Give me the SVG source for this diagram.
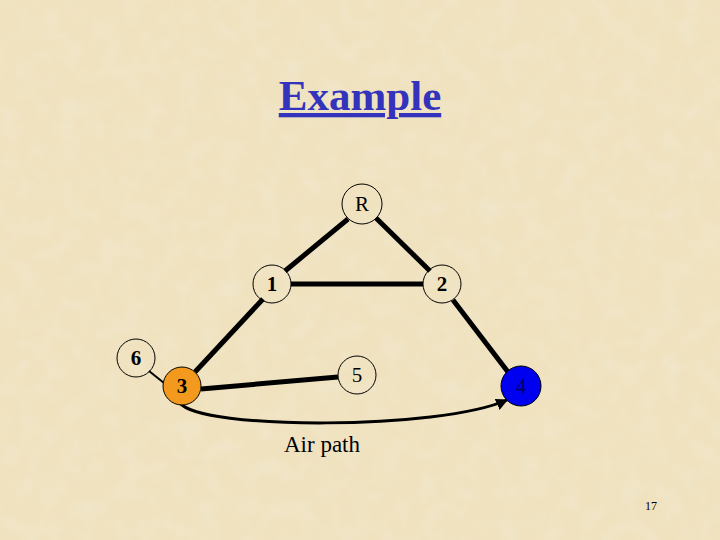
<svg xmlns="http://www.w3.org/2000/svg" width="720" height="540" viewBox="0 0 720 540">
<defs>
<filter id="tex" x="0" y="0" width="100%" height="100%">
<feTurbulence type="fractalNoise" baseFrequency="0.05" numOctaves="4" seed="3" result="n"/>
<feColorMatrix in="n" type="matrix" values="0 0 0 0 0.88  0 0 0 0 0.80  0 0 0 0 0.62  0 0 0 -1.4 0.8" result="c"/>
<feComposite in="c" in2="SourceGraphic" operator="over"/>
</filter>
<marker id="arr" viewBox="0 0 10 10" refX="9" refY="5" markerWidth="4" markerHeight="4" orient="auto" markerUnits="strokeWidth">
<path d="M0,0 L10,5 L0,10 z" fill="#000"/>
</marker>
<style>
.n{fill:none;stroke:#000;stroke-width:1}
.t{font-size:21px;text-anchor:middle;fill:#000}
.b{font-weight:bold}
.e{stroke:#000;stroke-width:5;fill:none}
</style>
</defs>
<rect width="720" height="540" fill="#F0E2BF" filter="url(#tex)"/>
<text x="360" y="110" font-family="Liberation Serif, serif" font-size="43" font-weight="bold" fill="#3333BB" text-anchor="middle" text-decoration="underline">Example</text>
<g id="connectors">
<line class="e" x1="348" y1="219" x2="285" y2="271"/>
<line class="e" x1="376" y1="218" x2="430" y2="271"/>
<line class="e" x1="291" y1="284" x2="423" y2="284"/>
<line class="e" x1="263" y1="299" x2="195" y2="372"/>
<line class="e" x1="201" y1="389" x2="338" y2="377"/>
<line class="e" x1="453" y1="300" x2="508" y2="372"/>
<line stroke="#000" stroke-width="2" x1="149" y1="371" x2="164" y2="383"/>
<path d="M180,403 C200,430 440,430 507,400" stroke="#000" stroke-width="3" fill="none" marker-end="url(#arr)"/>
</g>
<g font-family="Liberation Serif, serif">
<g id="nR"><circle class="n" cx="362" cy="204" r="20"/><text class="t" x="362" y="211">R</text></g>
<g id="n1"><circle class="n" cx="272" cy="284" r="19"/><text class="t b" x="272" y="291">1</text></g>
<g id="n2"><circle class="n" cx="442" cy="284" r="19"/><text class="t b" x="442" y="291">2</text></g>
<g id="n6"><circle class="n" cx="136" cy="358" r="19"/><text class="t b" x="136" y="365">6</text></g>
<g id="n3"><circle class="n" cx="182" cy="386" r="19" style="fill:#F39A1E"/><text class="t b" x="182" y="393">3</text></g>
<g id="n5"><circle class="n" cx="357" cy="375" r="19"/><text class="t" x="357" y="382">5</text></g>
<g id="n4"><circle class="n" cx="521" cy="386" r="20" style="fill:#0000F0"/><text class="t" x="521" y="393" style="fill:#000066">4</text></g>
<text class="t" x="322" y="452" style="font-size:23px">Air path</text>
<text x="651" y="510" font-size="12" text-anchor="middle" fill="#000">17</text>
</g>
</svg>
